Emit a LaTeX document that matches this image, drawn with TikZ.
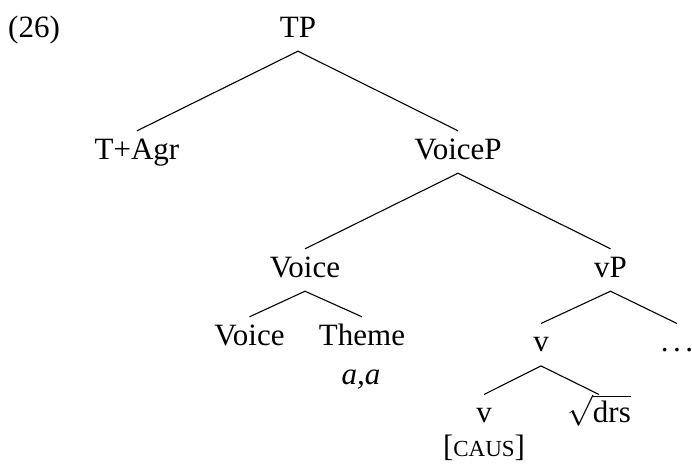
\RequirePackage{fix-cm}
\documentclass[tikz,border=0pt]{standalone}
\usepackage{fontspec}
\setmainfont{Liberation Serif}
\begin{document}
\begin{tikzpicture}[x=1pt,y=-1pt,
  lab/.style={anchor=base, font=\fontsize{31}{37}\selectfont,
    text height=14pt, text depth=0pt, inner xsep=0pt, inner ysep=14pt},
  plain/.style={anchor=base, font=\fontsize{31}{37}\selectfont, inner sep=0pt},
  branch/.style={line width=1.1pt}]
\useasboundingbox (0,0) rectangle (692,464);

% example number
\node[plain, anchor=base west] (num) at (8,37) {(26)};

% tree nodes
\node[lab] (TP)     at (298,37)    {TP};
\node[lab] (TAgr)   at (137,159)   {T+Agr};
\node[lab] (VoiceP) at (458,159)   {VoiceP};
\node[lab] (Voice)  at (305,277)   {Voice};
\node[lab] (vP)     at (610.5,277) {vP};
\node[lab] (VoiceH) at (249.5,345) {Voice};
\node[lab] (Theme)  at (362,345)   {Theme};
\node[lab] (v)      at (541,351.7) {v};
\node[lab] (dots)   at (677,351.7) {.\kern4.5pt.\kern4.5pt.};
\node[lab] (vH)     at (484,422.7) {v};
\node[lab] (root)   at (599,422.7) {$\sqrt{\hbox{drs}}$};

% features under terminals
\node[plain] (aa)   at (361,384) {\textit{a,a}};
\node[plain] (caus) at (484,456.5) {[{\fontsize{23}{28}\selectfont CAUS}]};

% branches
\draw[branch] (TAgr.north) -- (TP.south) -- (VoiceP.north);
\draw[branch] (Voice.north) -- (VoiceP.south) -- (vP.north);
\draw[branch] (VoiceH.north) -- (Voice.south) -- (Theme.north);
\draw[branch] (v.north) -- (vP.south) -- (dots.north);
\draw[branch] (vH.north) -- (v.south) -- (root.north);
\end{tikzpicture}
\end{document}
